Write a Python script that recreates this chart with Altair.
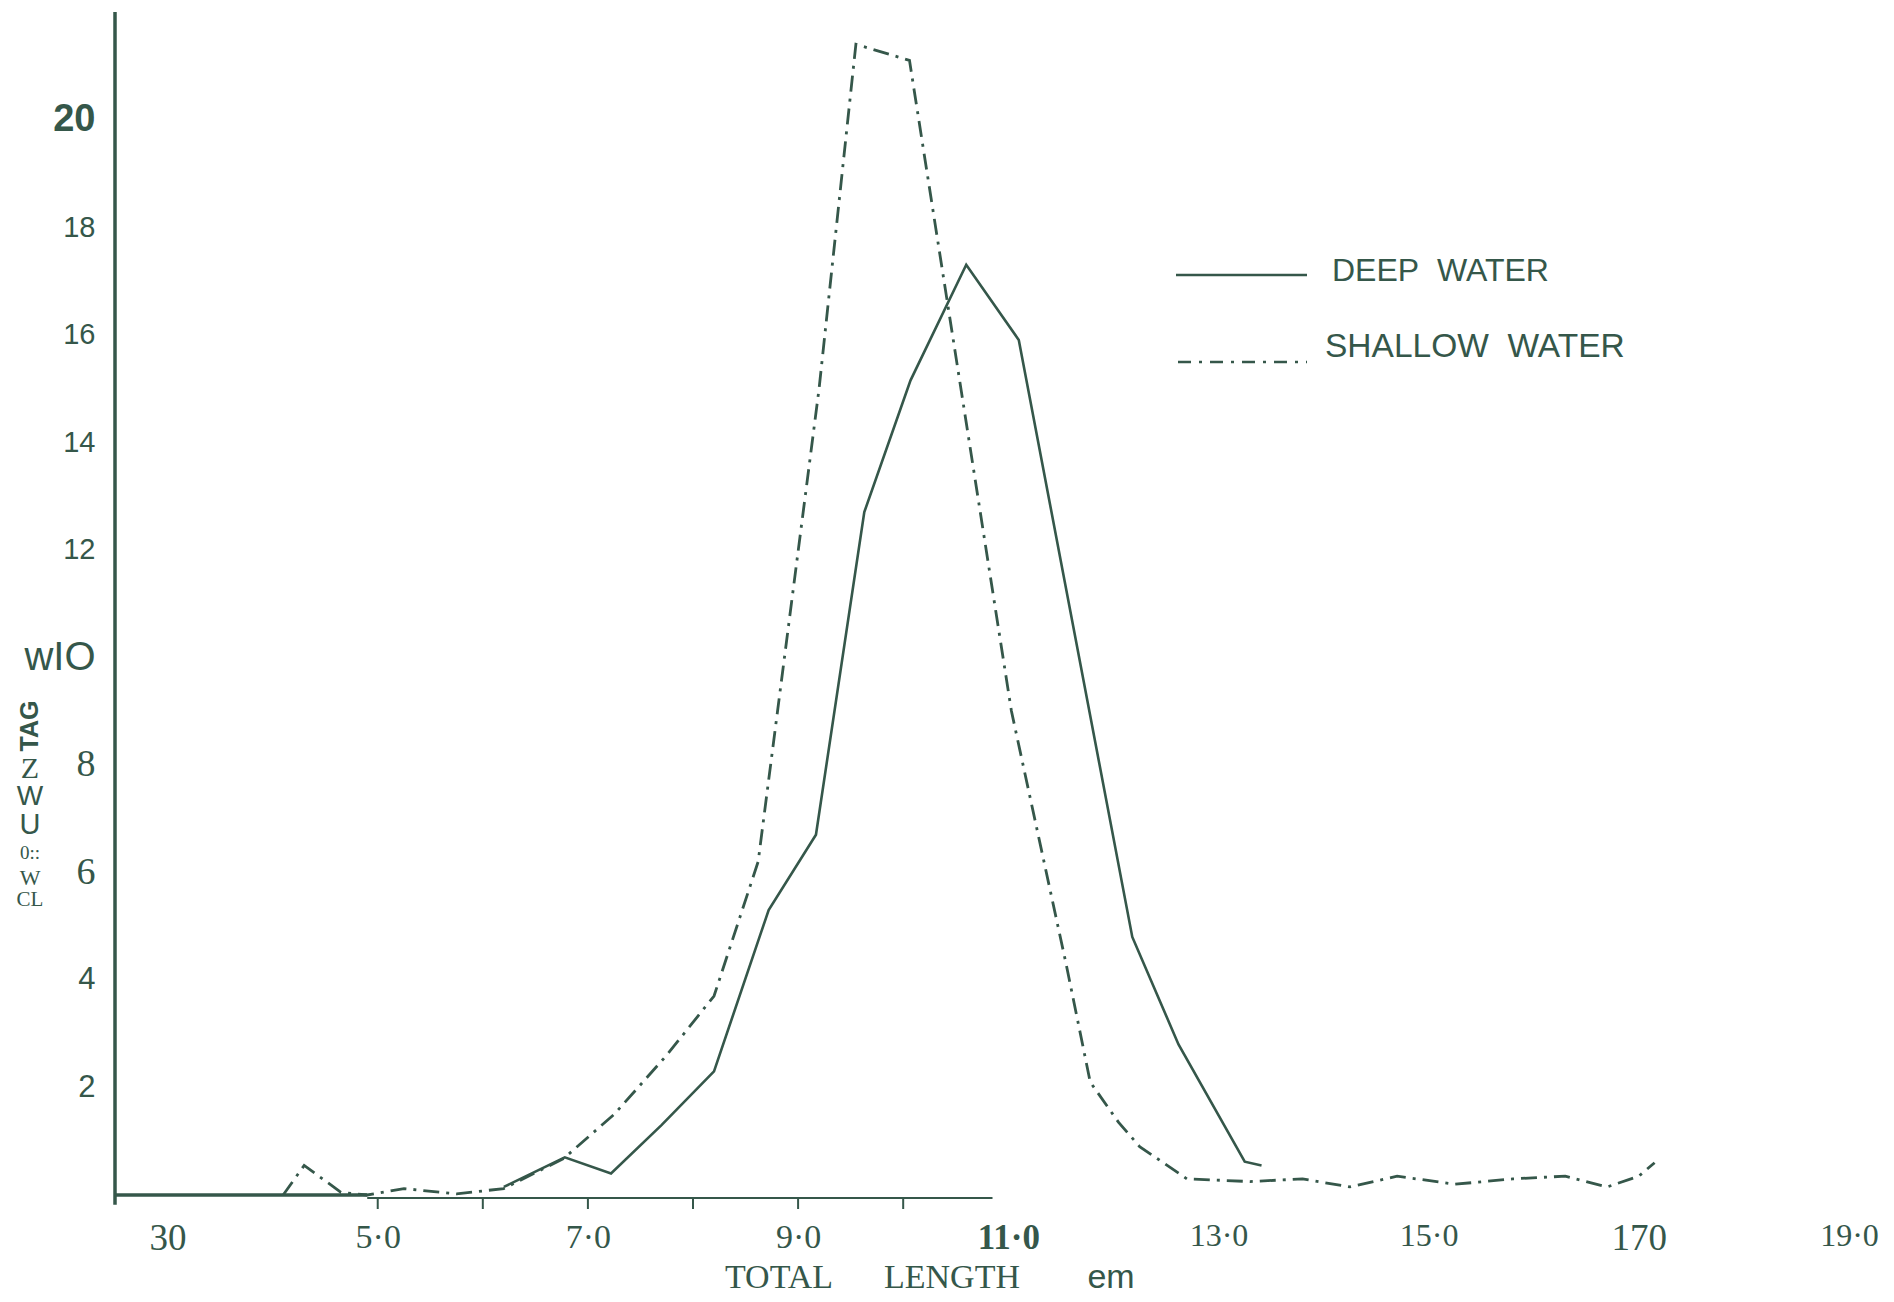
import altair as alt
import pandas as pd

# ---------------- data ----------------
deep_length = [6.2, 6.78, 7.22, 7.7, 8.2, 8.72, 9.17, 9.63, 10.07, 10.6, 11.1, 12.18, 12.62, 13.25, 13.41]
deep_pct = [0.15, 0.7, 0.4, 1.3, 2.3, 5.3, 6.7, 12.7, 15.15, 17.3, 15.9, 4.8, 2.8, 0.62, 0.55]

shallow_length = [4.1, 4.3, 4.65, 4.9, 5.25, 5.75, 6.2, 6.77, 7.25, 7.75, 8.2, 8.62, 9.2, 9.55,
                  10.06, 11.03, 11.55, 11.78, 12.05, 12.25, 12.7, 13.3, 13.8, 14.25, 14.7,
                  15.25, 15.8, 16.3, 16.7, 17.0, 17.15]
shallow_pct = [0.0, 0.55, 0.05, 0.0, 0.12, 0.02, 0.12, 0.68, 1.5, 2.6, 3.7, 6.2, 15.0, 21.4,
               21.1, 9.0, 4.3, 2.1, 1.35, 0.9, 0.3, 0.25, 0.3, 0.15, 0.35,
               0.2, 0.3, 0.35, 0.15, 0.35, 0.6]

x_label_values = [3, 5, 7, 9, 11, 13, 15, 17, 19]
x_label_text = ["30", "5·0", "7·0", "9·0", "11·0", "13·0", "15·0", "170", "19·0"]
y_label_values = [2, 4, 6, 8, 10, 12, 14, 16, 18, 20]
y_label_text = ["2", "4", "6", "8", "wIO", "12", "14", "16", "18", "20"]
x_tick_values = [5, 6, 7, 8, 9, 10]

series_names = ["DEEP\u00a0\u00a0WATER", "SHALLOW\u00a0\u00a0WATER"]
x_title_words = ["TOTAL", "LENGTH", "em"]
y_title_parts = ["CL", "W", "0::", "U", "W", "Z", "TAG"]

x_domain = [2.5, 19]
y_domain = [0, 22]
x_axis_thick_span = [2.5, 4.9]
x_axis_thin_span = [4.9, 10.85]
y_axis_span = [-0.18, 22]

# ---------------- styling ----------------
INK = "#35574a"
W, H = 1734, 1183

xs = alt.Scale(domain=x_domain, nice=False, zero=False)
ys = alt.Scale(domain=y_domain, nice=False, zero=False)


def label_expr(values, texts):
    expr = "''"
    for v, t in reversed(list(zip(values, texts))):
        expr = f"datum.value == {v} ? '{t}' : ({expr})"
    return expr


x_axis = alt.Axis(
    values=x_label_values,
    labelExpr=label_expr(x_label_values, x_label_text),
    domain=False, ticks=False, tickSize=0, grid=False, title=None,
    labelFont="Liberation Serif",
    labelFontSize={"condition": [
        {"test": "datum.value == 3 || datum.value == 17", "value": 37},
        {"test": "datum.value == 11", "value": 35},
        {"test": "datum.value <= 9", "value": 34}], "value": 32},
    labelFontWeight={"condition": {"test": "datum.value == 11", "value": "bold"}, "value": "normal"},
    labelColor=INK, labelPadding=25, labelFlush=False, labelOverlap=False,
)

y_axis = alt.Axis(
    values=y_label_values,
    labelExpr=label_expr(y_label_values, y_label_text),
    domain=False, ticks=False, tickSize=0, grid=False, title=None,
    labelFont={"condition": {"test": "datum.value == 8 || datum.value == 6", "value": "Liberation Serif"},
               "value": "Liberation Sans"},
    labelFontSize={"condition": [
        {"test": "datum.value == 20", "value": 38},
        {"test": "datum.value == 10", "value": 40},
        {"test": "datum.value == 8 || datum.value == 6", "value": 38},
        {"test": "datum.value <= 4", "value": 31}], "value": 29},
    labelFontWeight={"condition": {"test": "datum.value == 20", "value": "bold"}, "value": "normal"},
    labelColor=INK, labelPadding=20, labelOverlap=False,
)

deep_df = pd.DataFrame({"length": deep_length, "pct": deep_pct})
shallow_df = pd.DataFrame({"length": shallow_length, "pct": shallow_pct})

deep = alt.Chart(deep_df).mark_line(color=INK, strokeWidth=2.6).encode(
    x=alt.X("length:Q", scale=xs, axis=x_axis),
    y=alt.Y("pct:Q", scale=ys, axis=y_axis),
)

shallow = alt.Chart(shallow_df).mark_line(
    color=INK, strokeWidth=2.8, strokeDash=[16, 7, 3, 7]
).encode(
    x=alt.X("length:Q", scale=xs),
    y=alt.Y("pct:Q", scale=ys),
)

# axis lines and tick marks
thick_axis = alt.Chart(pd.DataFrame({"a": [x_axis_thick_span[0]], "b": [x_axis_thick_span[1]], "y": [0]})
                       ).mark_rule(color=INK, strokeWidth=3.5).encode(
    x=alt.X("a:Q", scale=xs), x2="b:Q", y=alt.Y("y:Q", scale=ys))
thin_axis = alt.Chart(pd.DataFrame({"a": [x_axis_thin_span[0]], "b": [x_axis_thin_span[1]], "y": [0]})
                      ).mark_rule(color=INK, strokeWidth=2, yOffset=3).encode(
    x=alt.X("a:Q", scale=xs), x2="b:Q", y=alt.Y("y:Q", scale=ys))
y_axis_line = alt.Chart(pd.DataFrame({"x": [x_domain[0]], "a": [y_axis_span[0]], "b": [y_axis_span[1]]})
                        ).mark_rule(color=INK, strokeWidth=3.5).encode(
    x=alt.X("x:Q", scale=xs), y=alt.Y("a:Q", scale=ys), y2="b:Q")
ticks = alt.Chart(pd.DataFrame({"t": x_tick_values, "y": [0] * len(x_tick_values)})
                  ).mark_rule(color=INK, strokeWidth=2, yOffset=3, y2Offset=14).encode(
    x=alt.X("t:Q", scale=xs), y=alt.Y("y:Q", scale=ys), y2="y:Q")

# legend
leg_deep_line = alt.Chart(pd.DataFrame({"s": [series_names[0]]})).mark_rule(
    color=INK, strokeWidth=2.4).encode(x=alt.value(1061), x2=alt.value(1192), y=alt.value(263))
leg_shallow_line = alt.Chart(pd.DataFrame({"s": [series_names[1]]})).mark_rule(
    color=INK, strokeWidth=2.6, strokeDash=[13, 8, 3, 8]).encode(
    x=alt.value(1063), x2=alt.value(1192), y=alt.value(350))
leg_deep_text = alt.Chart(pd.DataFrame({"s": [series_names[0]]})).mark_text(
    align="left", baseline="middle", font="Liberation Sans", fontSize=32, color=INK).encode(
    text="s:N", x=alt.value(1217), y=alt.value(259))
leg_shallow_text = alt.Chart(pd.DataFrame({"s": [series_names[1]]})).mark_text(
    align="left", baseline="middle", font="Liberation Sans", fontSize=33.5, color=INK).encode(
    text="s:N", x=alt.value(1210), y=alt.value(335))

# x-axis title words
x_title_layout = [(664, "Liberation Serif", 34), (837, "Liberation Serif", 34), (996, "Liberation Sans", 34)]
x_title_layers = []
for word, (px, font, size) in zip(x_title_words, x_title_layout):
    x_title_layers.append(
        alt.Chart(pd.DataFrame({"t": [word]})).mark_text(
            align="center", baseline="middle", font=font, fontSize=size, color=INK).encode(
            text="t:N", x=alt.value(px), y=alt.value(1266)))

# y-axis title fragments (as scanned)
y_title_layout = [
    (888, "Liberation Serif", 21, "normal", 0),
    (866, "Liberation Serif", 22, "normal", 0),
    (841, "Liberation Serif", 19, "normal", 0),
    (813, "Liberation Sans", 29, "normal", 0),
    (785, "Liberation Sans", 28, "normal", 0),
    (757, "Liberation Serif", 30, "normal", 0),
    (714, "Liberation Sans", 25, "bold", 270),
]
y_title_layers = []
for part, (py, font, size, weight, ang) in zip(y_title_parts, y_title_layout):
    y_title_layers.append(
        alt.Chart(pd.DataFrame({"t": [part]})).mark_text(
            align="center", baseline="middle", font=font, fontSize=size, fontWeight=weight,
            angle=ang, color=INK).encode(
            text="t:N", x=alt.value(-85), y=alt.value(py)))

chart = alt.layer(
    deep, shallow, thick_axis, thin_axis, y_axis_line, ticks,
    leg_deep_line, leg_shallow_line, leg_deep_text, leg_shallow_text,
    *x_title_layers, *y_title_layers,
).properties(
    width=W, height=H,
    autosize=alt.AutoSizeParams(type="none"),
    padding={"left": 107, "top": 4, "right": 30, "bottom": 100},
    background="white",
).configure_view(stroke=None)

chart.save("out.html", embed_options={"renderer": "svg", "actions": False})
